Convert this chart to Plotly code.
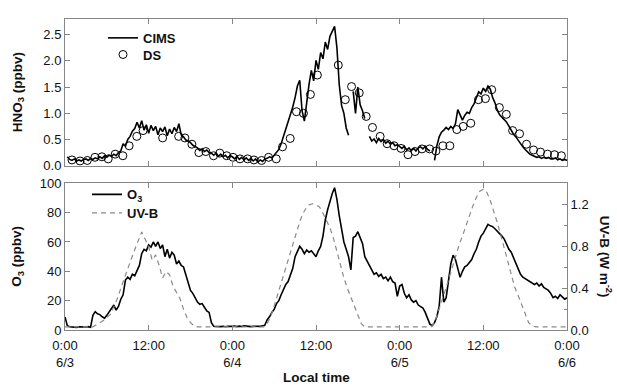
import plotly.graph_objects as go

# ---------------------------------------------------------------------------
# Data (hours after 6/3 0:00, local time)
# ---------------------------------------------------------------------------

# CIMS HNO3 (ppbv): 20-min readings, one row per hour; None marks a data gap
hno3_cims_rows = [
    [None, 0.17, 0.12], [0.10, 0.13, 0.09], [0.11, 0.09, 0.12], [0.13, 0.10, 0.14],
    [0.12, 0.15, 0.13], [0.17, 0.14, 0.19], [0.16, 0.20, 0.18], [0.22, 0.19, 0.25],
    [0.28, 0.42, 0.37], [0.50, 0.56, 0.66], [0.71, 0.83, 0.72], [0.86, 0.68, 0.78],
    [0.62, 0.77, 0.67], [0.75, 0.59, 0.72], [0.65, 0.74, 0.57], [0.70, 0.61, 0.73],
    [0.65, 0.80, 0.59], [0.55, 0.49, 0.47], [0.44, 0.39, 0.37], [0.34, 0.29, 0.32],
    [0.27, 0.30, 0.25], [0.24, 0.20, 0.24], [0.18, 0.22, 0.17], [0.20, 0.15, 0.19],
    [0.17, 0.13, 0.18], [0.12, 0.16, 0.11], [0.15, 0.10, 0.14], [0.09, 0.13, 0.07],
    [0.11, 0.08, 0.13], [0.14, 0.17, 0.15], [0.20, 0.25, 0.31], [0.42, 0.56, 0.68],
    [0.83, 0.96, 1.12], [1.30, 1.52, 1.63], [1.05, 0.85, 1.22], [1.55, 1.82, 1.62],
    [2.01, 1.84, 2.16], [2.04, 2.36, 2.22], [2.47, 2.58, 2.66], [2.25, 1.55, 1.15],
    [1.00, 0.72, 0.58], [None, 1.42, 1.00], [1.50, 1.16, 1.05], [0.90, None, 0.56],
    [0.47, 0.51, 0.44], [0.52, 0.46, 0.50], [0.43, 0.47, 0.41], [0.44, 0.38, 0.40],
    [0.36, 0.33, 0.37], [0.30, 0.34, 0.29], [0.33, 0.28, 0.34], [0.36, 0.32, 0.37],
    [0.31, 0.28, None], [0.10, 0.38, 0.55], [0.64, 0.68, 0.73], [0.69, 0.75, 0.71],
    [0.80, 1.07, 0.97], [0.87, 0.96, 1.02], [1.00, 1.11, 1.18], [1.30, 1.41, 1.37],
    [1.48, 1.42, 1.52], [1.46, 1.30, 1.20], [1.06, 0.97, 0.93], [0.88, 0.83, 0.75],
    [0.69, 0.60, 0.55], [0.48, 0.42, 0.36], [0.31, 0.27, 0.22], [0.20, 0.18, 0.16],
    [0.17, 0.14, 0.16], [0.14, 0.16, 0.13], [0.13, 0.15, 0.11], [0.13, 0.10, 0.12],
]
hno3_cims_last = 0.10

# Denuder (DS) HNO3 samples
ds_hour = [
    1.0, 2.15, 3.2, 4.3, 5.3, 6.2, 7.2, 8.3, 9.2, 10.3, 11.2,
    14.0, 16.3, 17.2, 18.2, 19.2, 20.2, 21.3, 22.2, 23.2,
    24.1, 25.1, 26.2, 27.1, 28.2, 29.2, 30.3, 31.2, 32.3, 33.2,
    34.2, 35.2, 36.2, 39.2, 40.2, 41.1, 42.2, 43.2, 44.1, 45.2,
    46.2, 47.2, 48.2, 49.2, 50.2, 51.2, 52.3, 53.2, 54.2, 55.2,
    56.2, 57.1, 58.2, 59.3, 60.3, 61.2, 62.3, 63.3, 64.2, 65.2,
    66.2, 67.2, 68.2, 69.2, 70.2, 71.2,
]
ds_hno3 = [
    0.11, 0.09, 0.10, 0.16, 0.17, 0.13, 0.22, 0.19, 0.38, 0.56, 0.67,
    0.53, 0.56, 0.53, 0.41, 0.25, 0.27, 0.19, 0.24, 0.19,
    0.16, 0.13, 0.13, 0.11, 0.10, 0.16, 0.13, 0.36, 0.52, 1.03,
    1.00, 1.36, 1.73, 1.92, 1.26, 1.51, 1.39, 0.94, 0.73, 0.56,
    0.42, 0.38, 0.33, 0.21, 0.27, 0.32, 0.32, 0.28, 0.38, 0.38,
    0.69, 0.75, 0.81, 1.26, 1.28, 1.45, 1.11, 0.98, 0.67, 0.61,
    0.41, 0.30, 0.26, 0.22, 0.21, 0.19,
]

# O3 (ppbv): 20-min readings, one row per hour
o3_rows = [
    [8.9, 3.0, 2.2], [2.0, 2.3, 1.8], [2.1, 1.9, 2.2], [2.0, 2.3, 1.9],
    [10.0, 12.5, 11.0], [10.5, 9.0, 8.0], [10.0, 12.5, 15.0], [17.0, 13.5, 16.0],
    [21.0, 24.0, 34.0], [36.0, 34.5, 38.0], [37.0, 40.0, 44.0], [52.0, 55.0, 54.0],
    [58.0, 56.5, 60.0], [57.0, 60.0, 55.5], [58.0, 50.0, 55.0], [49.0, 53.0, 51.0],
    [45.0, 47.0, 44.0], [43.0, 38.0, 33.0], [27.0, 25.0, 22.0], [19.0, 17.5, 18.0],
    [15.5, 13.0, 12.0], [5.0, 2.5, 2.3], [2.6, 2.3, 2.5], [2.2, 2.6, 2.4],
    [2.5, 2.7, 2.3], [2.6, 2.4, 2.8], [2.5, 2.7, 2.3], [2.6, 2.4, 2.7],
    [2.5, 2.8, 3.3], [7.0, 9.0, 12.0], [14.0, 18.0, 20.0], [24.0, 28.0, 31.0],
    [33.0, 37.0, 42.0], [50.0, 54.0, 57.0], [55.0, 52.0, 54.5], [53.0, 54.0, 52.0],
    [50.0, 54.0, 57.0], [64.0, 75.0, 82.0], [88.0, 93.0, 97.0], [89.0, 78.0, 68.0],
    [60.0, 55.0, 50.0], [41.0, 63.0, 64.0], [67.0, 63.0, 59.0], [50.0, 47.0, 43.0],
    [40.0, 38.0, 39.0], [36.5, 38.0, 35.0], [36.0, 33.5, 36.0], [33.0, 32.0, 23.0],
    [30.0, 31.0, 25.0], [22.0, 24.0, 20.5], [19.0, 20.0, 17.0], [16.0, 15.0, 12.0],
    [8.0, 4.0, 3.0], [5.0, 9.0, 16.0], [36.0, 19.0, 22.0], [33.0, 45.0, 51.0],
    [48.0, 42.0, 36.0], [40.0, 43.0, 44.0], [46.0, 48.0, 52.0], [55.0, 60.0, 64.0],
    [66.0, 69.0, 72.0], [71.0, 70.5, 69.0], [67.5, 66.0, 64.0], [62.0, 58.0, 55.0],
    [53.0, 49.0, 45.0], [41.0, 38.0, 36.0], [35.0, 34.0, 33.0], [32.5, 31.0, 32.0],
    [30.0, 31.5, 29.0], [28.0, 27.0, 25.0], [22.0, 23.0, 21.5], [24.0, 22.5, 21.0],
]
o3_last = 22.0

# UV-B (W m-2): 30-min readings, one row per hour
uvb_rows = [
    [0.03, 0.03], [0.03, 0.03], [0.03, 0.03], [0.03, 0.03],
    [0.03, 0.05], [0.07, 0.09], [0.12, 0.15], [0.22, 0.30],
    [0.40, 0.50], [0.59, 0.68], [0.77, 0.86], [0.94, 0.87],
    [0.80, 0.67], [0.72, 0.62], [0.50, 0.56], [0.53, 0.42],
    [0.36, 0.30], [0.20, 0.12], [0.07, 0.04], [0.03, 0.03],
    [0.03, 0.03], [0.03, 0.03], [0.03, 0.03], [0.03, 0.03],
    [0.03, 0.03], [0.03, 0.03], [0.03, 0.03], [0.03, 0.03],
    [0.03, 0.03], [0.06, 0.13], [0.23, 0.34], [0.47, 0.58],
    [0.69, 0.80], [0.90, 1.00], [1.10, 1.16], [1.20, 1.21],
    [1.20, 1.18], [1.12, 1.05], [0.98, 0.88], [0.75, 0.62],
    [0.50, 0.40], [0.31, 0.22], [0.13, 0.06], [0.03, 0.03],
    [0.03, 0.03], [0.03, 0.03], [0.03, 0.03], [0.03, 0.03],
    [0.03, 0.03], [0.03, 0.03], [0.03, 0.03], [0.03, 0.03],
    [0.03, 0.03], [0.07, 0.16], [0.27, 0.37], [0.48, 0.60],
    [0.71, 0.81], [0.90, 1.00], [1.10, 1.19], [1.27, 1.33],
    [1.35, 1.32], [1.24, 1.14], [1.03, 0.91], [0.78, 0.65],
    [0.52, 0.41], [0.33, 0.24], [0.14, 0.07], [0.04, 0.03],
    [0.03, 0.03], [0.03, 0.03], [0.03, 0.03], [0.03, 0.03],
]
uvb_last = 0.03

hour_ticks = [0, 12, 24, 36, 48, 60, 72]
hour_labels = ["0:00<br>6/3", "12:00", "0:00<br>6/4", "12:00",
               "0:00<br>6/5", "12:00", "0:00<br>6/6"]


def series(rows, last):
    vals = [v for row in rows for v in row] + [last]
    per_hour = len(rows[0])
    return [i / per_hour for i in range(len(vals))], vals


t_cims, hno3_cims = series(hno3_cims_rows, hno3_cims_last)
t_o3, o3 = series(o3_rows, o3_last)
t_uv, uvb = series(uvb_rows, uvb_last)

# ---------------------------------------------------------------------------
# Figure
# ---------------------------------------------------------------------------
FONT = "Liberation Sans, Arial, Helvetica, sans-serif"
FRAME = "#858585"
W, H = 617, 388
ML, MR, MT, MB = 65, 50, 12, 58
PW, PH = W - ML - MR, H - MT - MB


def px_x(px):
    return (px - ML) / PW


def px_y(py):
    return (H - MB - py) / PH


fig = go.Figure()

fig.add_trace(go.Scatter(
    x=t_cims, y=hno3_cims, name="CIMS", mode="lines",
    line=dict(color="black", width=1.6), connectgaps=False,
    xaxis="x", yaxis="y", legend="legend"))
fig.add_trace(go.Scatter(
    x=ds_hour, y=ds_hno3, name="DS", mode="markers",
    marker=dict(symbol="circle-open", size=8, color="black", line=dict(width=1)),
    xaxis="x", yaxis="y", legend="legend2"))

fig.add_trace(go.Scatter(
    x=t_o3, y=o3, name="O<sub>3</sub>", mode="lines",
    line=dict(color="black", width=1.6),
    xaxis="x2", yaxis="y2", legend="legend3"))
fig.add_trace(go.Scatter(
    x=t_uv, y=uvb, name="UV-B", mode="lines",
    line=dict(color="#8a8a8a", width=1.2, dash="5px,4px"),
    xaxis="x2", yaxis="y3", legend="legend4"))

axis_common = dict(
    showline=True, linecolor=FRAME, linewidth=1,
    ticks="inside", ticklen=5, tickcolor=FRAME, tickwidth=1,
    showgrid=False, zeroline=False,
    tickfont=dict(family=FONT, size=13, color="#111"),
)

top_lo = px_y(162)
bot_hi = px_y(180)

legend_font = dict(family=FONT, size=13, color="#111", weight="bold")


def legend_box(px, py):
    return dict(x=px_x(px), y=px_y(py), xanchor="left", yanchor="top",
                bgcolor="rgba(0,0,0,0)", font=legend_font)


fig.update_layout(
    width=W, height=H,
    margin=dict(l=ML, r=MR, t=MT, b=MB),
    paper_bgcolor="white", plot_bgcolor="white",
    font=dict(family=FONT, size=13, color="#111"),
    xaxis=dict(axis_common, domain=[0, 1], anchor="y", range=[0, 72],
               tickvals=hour_ticks, showticklabels=False, mirror="ticks"),
    yaxis=dict(axis_common, domain=[top_lo, 1], anchor="x", range=[0, 2.8],
               tickvals=[0, 0.5, 1.0, 1.5, 2.0, 2.5], tickformat=".1f",
               mirror="ticks"),
    xaxis2=dict(axis_common, domain=[0, 1], anchor="y2", range=[0, 72],
                tickvals=hour_ticks, ticktext=hour_labels, mirror="ticks",
                ticklabelstandoff=3),
    yaxis2=dict(axis_common, domain=[0, bot_hi], anchor="x2", range=[0, 100],
                tickvals=[0, 20, 40, 60, 80, 100], mirror=True),
    yaxis3=dict(axis_common, overlaying="y2", anchor="x2", side="right",
                range=[0, 1.40625], tickvals=[0, 0.4, 0.8, 1.2],
                tickformat=".1f",
                minor=dict(tickvals=[0.2, 0.6, 1.0], ticks="inside",
                           ticklen=3, tickcolor=FRAME)),
    legend=legend_box(103, 16),
    legend2=legend_box(103, 33),
    legend3=legend_box(87, 176),
    legend4=legend_box(87, 195),
    showlegend=True,
)

title_font = dict(family=FONT, size=13.5, color="#111")
for text, x, y, angle in [
    ("<b>HNO<sub>3</sub> (ppbv)</b>", px_x(18), (top_lo + 1) / 2, -90),
    ("<b>O<sub>3</sub> (ppbv)</b>", px_x(18), bot_hi / 2, -90),
    ("<b>UV-B (W m<sup>-2</sup>)</b>", px_x(606), bot_hi / 2, 90),
    ("<b>Local time</b>", 0.5, px_y(379), 0),
]:
    fig.add_annotation(text=text, xref="paper", yref="paper", x=x, y=y,
                       xanchor="center", yanchor="middle", textangle=angle,
                       showarrow=False, font=title_font)

fig.write_html("out.html")
